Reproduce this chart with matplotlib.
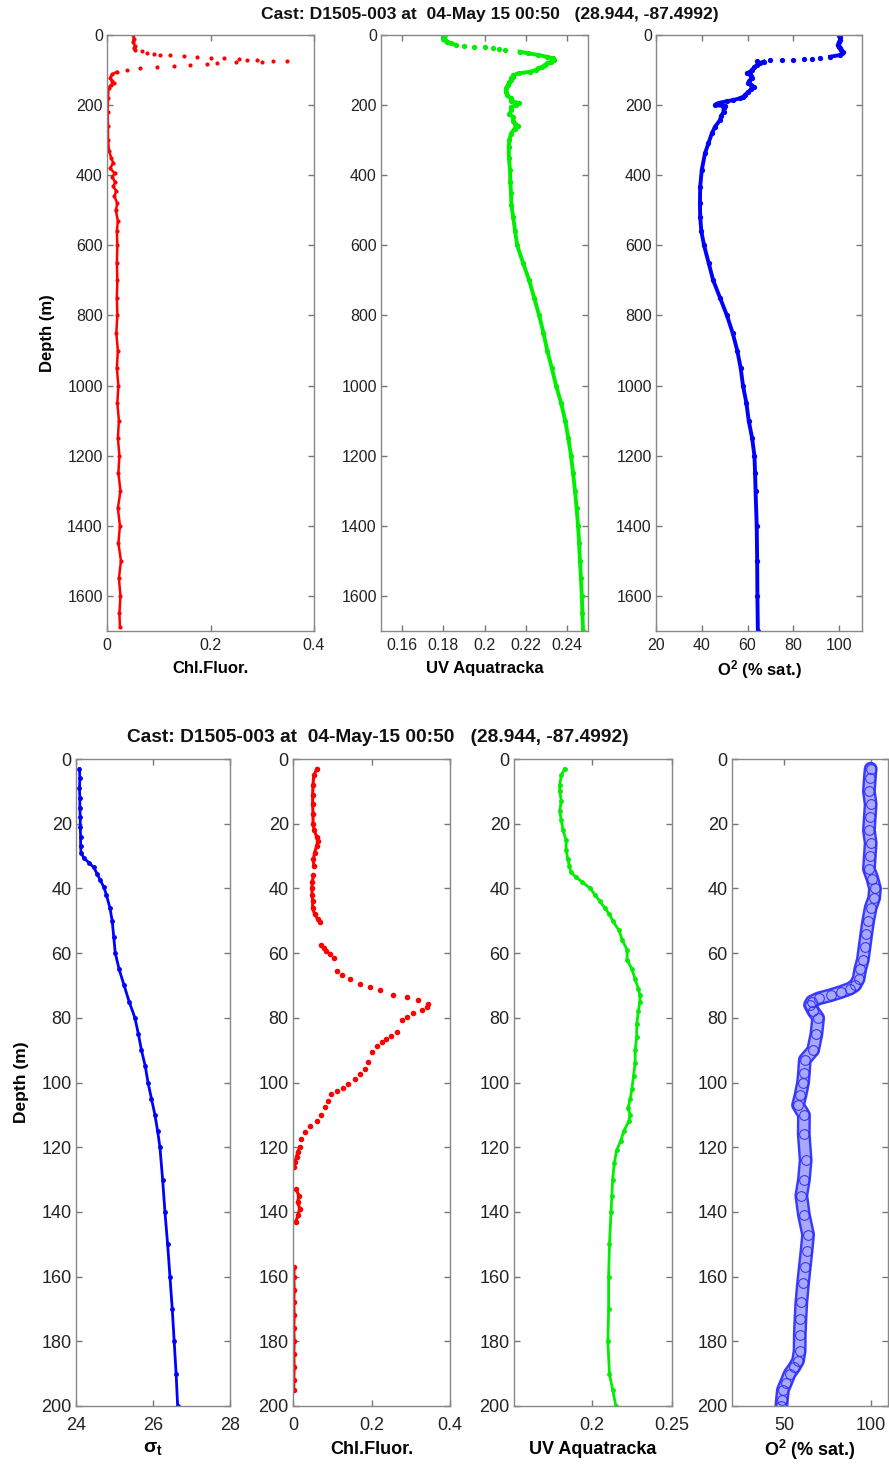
import numpy as np
import matplotlib
matplotlib.use('Agg')
import matplotlib.pyplot as plt
from matplotlib.ticker import FormatStrFormatter

plt.rcParams['font.family'] = ['Liberation Sans', 'DejaVu Sans']
plt.rcParams['mathtext.fontset'] = 'custom'
plt.rcParams['mathtext.rm'] = 'Liberation Sans:bold'
plt.rcParams['mathtext.it'] = 'Liberation Sans:bold'
plt.rcParams['mathtext.bf'] = 'Liberation Sans:bold'

nan = np.nan

# ---- top cast, full depth (0-1700 m)
chl_top_depth = [0, 10, 20, 30, 38, 43, 47, 50, 53, 56, 58, 61, 63, 66, 67, 69, 71, 72, 73, 74,
                 76, 78, 80, 82, 85, 87, 91, 95, 100, 105, 112, 122, 132, 138, 142, 150, 180, 220,
                 260, 300, 330, 350, 365, 380, 395, 405, 420, 432, 445, 460, 480, 500, 530, 560,
                 600, 650, 700, 750, 800, 850, 900, 950, 1000, 1050, 1100, 1150, 1200, 1250, 1300,
                 1350, 1400, 1450, 1500, 1550, 1600, 1650, 1690]
chl_top = [0.050, 0.052, 0.050, 0.054, 0.052, 0.055, 0.068, 0.077, 0.090, 0.103, 0.122, 0.148,
           0.174, 0.200, 0.226, 0.255, 0.271, 0.290, 0.320, 0.348, 0.300, 0.250, 0.213, 0.194,
           0.161, 0.129, 0.097, 0.064, 0.039, 0.019, 0.010, 0.006, 0.010, 0.013, 0.008, 0.003,
           0.002, 0.001, 0.002, 0.002, 0.004, 0.008, 0.012, 0.006, 0.015, 0.010, 0.016, 0.012,
           0.018, 0.014, 0.020, 0.017, 0.021, 0.019, 0.020, 0.019, 0.020, 0.019, 0.020, 0.018,
           0.021, 0.019, 0.022, 0.020, 0.023, 0.021, 0.024, 0.022, 0.026, 0.021, 0.025, 0.022,
           0.027, 0.023, 0.026, 0.024, 0.025]

uv_top_depth = [0, 5, 10, 15, 19, 24, 28.5, 31, 33, 35, 38, 41, 44, 47.5, 52, 57, 62, 66.5, 71,
                76, 81, 86, 90, 95, 100, 105, 109, 114, 119, 124, 128, 135, 143, 152, 162, 172,
                181, 188, 195, 200, 206, 215, 225, 233, 245, 253, 260, 267, 281, 300, 319, 350,
                385, 420, 452, 485, 518, 560, 600, 650, 700, 750, 800, 850, 900, 950, 1000, 1050,
                1100, 1150, 1200, 1250, 1300, 1350, 1400, 1450, 1500, 1550, 1600, 1650, 1700]
uv_top = [0.181, 0.180, 0.180, 0.181, 0.182, 0.184, 0.186, 0.190, 0.195, 0.200, 0.204, 0.207,
          0.210, 0.217, 0.221, 0.226, 0.230, 0.233, 0.2336, 0.232, 0.2304, 0.229, 0.228, 0.226,
          0.2248, 0.222, 0.2168, 0.214, 0.2136, 0.2128, 0.2128, 0.212, 0.2112, 0.2105, 0.2104,
          0.211, 0.2128, 0.213, 0.2168, 0.215, 0.2128, 0.213, 0.212, 0.2136, 0.214, 0.2145,
          0.216, 0.2145, 0.2128, 0.212, 0.2117, 0.2118, 0.2123, 0.2125, 0.2128, 0.213, 0.2138,
          0.2148, 0.2158, 0.2186, 0.2216, 0.224, 0.2264, 0.2285, 0.2303, 0.2325, 0.2346, 0.237,
          0.239, 0.2405, 0.2418, 0.2428, 0.2437, 0.2445, 0.2452, 0.2457, 0.2461, 0.2466, 0.247,
          0.2473, 0.2476]

o2_top_depth = [0, 7, 14, 21, 28.5, 33, 38, 43, 47.5, 52, 57, 62, 66.5, 68, 69.4, 70.5, 71.3,
                72.3, 73.2, 76, 80, 85.6, 92, 99.8, 105, 109.3, 116, 123.6, 130, 137.9, 143,
                147.4, 155, 161.7, 170, 175.9, 181, 185.4, 189, 193, 196, 199.7, 203, 209, 220,
                230, 242.6, 261.6, 280.6, 309, 337.7, 385, 432.6, 480, 518, 560, 600, 650, 700,
                750, 800, 850, 900, 950, 1000, 1050, 1100, 1150, 1200, 1250, 1300, 1400, 1500,
                1600, 1700]
o2_top = [99.8, 100.2, 100.5, 100, 99.4, 99.8, 100.5, 101, 101.8, 101.2, 100.5, 96.1, 91.8, 88,
          84.5, 80, 75, 70, 64, 67, 65.5, 64.1, 63, 61.9, 61, 59.7, 61.5, 61.9, 60.8, 60.4, 61.5,
          62.6, 61.5, 60.4, 59, 58.2, 56.5, 53.8, 51, 48, 46.5, 45.8, 50, 49.5, 49.5, 48.5, 48,
          45.8, 44.4, 42.9, 41.4, 40, 39.3, 39.2, 39.3, 39.8, 41, 43, 45, 48, 51, 53.5, 55.5, 57,
          58, 59.5, 60.5, 62, 63, 63.3, 63.5, 64, 64.2, 64.3, 64.5]

# ---- bottom cast, upper 200 m
sig_depth = [3, 6, 9, 12, 15, 18, 21, 24, 27, 29, 30.5, 32, 33.5, 35.5, 37.5, 39.5, 42, 46, 50,
             55, 60, 65, 70, 75, 80, 85, 90, 95, 100, 105, 110, 115, 120, 130, 140, 150, 160,
             170, 180, 190, 200]
sig_t = [24.09, 24.10, 24.09, 24.10, 24.10, 24.11, 24.11, 24.12, 24.12, 24.13, 24.20, 24.33,
         24.46, 24.55, 24.63, 24.72, 24.79, 24.88, 24.94, 24.98, 25.02, 25.12, 25.25, 25.38,
         25.53, 25.62, 25.70, 25.80, 25.87, 25.96, 26.05, 26.12, 26.18, 26.25, 26.31, 26.38,
         26.44, 26.50, 26.55, 26.60, 26.64]

chl_bot_depth = [3, 5, 8, 11, 14, 17, 20, 22, 24, 25.5, 27, 29, 31, 33, 34.5, 36, 38, 40, 42,
                 44, 46, 48, 49.5, 50.5, 54, 57.4, 58.3, 59.2, 60.3, 61.5, 63.5, 65.6, 66.9,
                 67.9, 69.5, 70.5, 71.5, 72.9, 73.6, 74.6, 75.7, 76.7, 77.7, 78.6, 79.6, 80.6,
                 84.4, 85.5, 86.5, 87.5, 88.6, 90.6, 93.7, 95.8, 97.3, 98.9, 100.4, 101.8, 102.7,
                 103.5, 105.6, 107.6, 110.2, 111.8, 113.3, 115.4, 117.4, 120, 121.5, 123, 124.5,
                 126, 130, 133, 135, 137, 139, 141, 143, 150, 157, 160, 164, 168, 172, 176, 180,
                 184, 188, 192, 195]
chl_bot = [0.061, 0.053, 0.051, 0.050, 0.050, 0.051, 0.051, 0.054, 0.060, 0.063, 0.060, 0.055,
           0.052, 0.053, nan, 0.052, 0.049, 0.048, 0.049, 0.050, 0.050, 0.055, 0.063, 0.068, nan,
           0.072, 0.078, 0.085, 0.095, 0.105, nan, 0.111, 0.124, 0.145, 0.170, 0.196, 0.221,
           0.255, 0.290, 0.319, 0.345, 0.341, 0.328, 0.307, 0.290, 0.277, 0.264, 0.250, 0.238,
           0.226, 0.213, 0.200, 0.191, 0.183, 0.170, 0.157, 0.140, 0.128, 0.111, 0.098, 0.090,
           0.081, 0.072, 0.060, 0.043, 0.030, 0.021, 0.017, 0.012, 0.009, 0.005, 0.002, nan,
           0.008, 0.015, 0.012, 0.017, 0.013, 0.007, nan, 0.003, 0.002, 0.003, 0.002, 0.003,
           0.002, 0.003, 0.002, 0.003, 0.002, 0.002]

uv_bot_depth = [3, 5, 8, 10, 13, 16, 19, 22, 25, 28, 31, 33, 35, 36.5, 38, 40, 42, 44, 46, 48, 50,
                53, 56, 59, 62, 65, 68, 71, 73, 75, 78, 82, 86, 90, 94, 98, 102, 105, 108, 110,
                112, 115, 118, 121, 125, 130, 135, 140, 150, 160, 170, 180, 190, 195, 200]
uv_bot = [0.183, 0.181, 0.180, 0.180, 0.181, 0.180, 0.181, 0.182, 0.184, 0.184, 0.185, 0.186,
          0.187, 0.190, 0.194, 0.199, 0.202, 0.205, 0.208, 0.211, 0.213, 0.217, 0.219, 0.222,
          0.222, 0.225, 0.227, 0.229, 0.230, 0.230, 0.229, 0.228, 0.228, 0.227, 0.227, 0.226,
          0.225, 0.224, 0.2225, 0.224, 0.223, 0.220, 0.218, 0.2155, 0.214, 0.213, 0.2125, 0.212,
          0.211, 0.2105, 0.2105, 0.210, 0.211, 0.213, 0.215]

o2_bot_depth = [3, 6, 10, 14, 18, 22, 26, 30, 34, 37, 40, 43, 46, 50, 54, 58, 62, 65, 68, 70, 71,
                72, 73, 74, 75, 76, 78, 80, 85, 90, 93, 97, 100, 104, 107, 110, 116, 124, 130,
                135, 141, 147, 152, 157, 162, 168, 173, 178, 183, 186, 188, 190, 193, 195, 198,
                200]
o2_bot = [100, 99.5, 99, 100, 99.5, 99, 100, 99.5, 99, 101, 102.5, 102, 100, 98.6, 97.5, 96.5,
          95.5, 94, 93, 91, 88, 83, 77, 70, 66, 65, 67, 69.7, 68.7, 66.8, 62, 61.5, 61, 59.5,
          58.1, 61.5, 61.4, 62.5, 61.5, 60, 61.5, 63.9, 63, 62, 61, 60, 59.5, 59.1, 59, 58.1, 56,
          53.3, 51, 49.4, 48.8, 48.5]

title_top = 'Cast: D1505-003 at  04-May 15 00:50   (28.944, -87.4992)'
title_bot = 'Cast: D1505-003 at  04-May-15 00:50   (28.944, -87.4992)'
o2_label = r'$\mathregular{O^2}$ (% sat.)'

RED, GREEN, BLUE = '#ff0000', '#00ee00', '#0000ff'


def style(ax, xlim, xticks, ylim, yticks, fs, xpad=3):
    ax.set_xlim(*xlim)
    ax.set_ylim(*ylim)
    ax.set_xticks(xticks)
    ax.set_yticks(yticks)
    ax.xaxis.set_major_formatter(FormatStrFormatter('%g'))
    ax.tick_params(direction='in', top=True, right=True, length=4, width=1,
                   color='#777777', labelcolor='#222222', labelsize=fs, pad=3)
    ax.tick_params(axis='x', pad=xpad)
    for s in ax.spines.values():
        s.set_color('#888888')
        s.set_linewidth(1)


def profile(ax, x, d, color, dots=None, ms=3.5, lw=2.0):
    x = np.asarray(x, float)
    d = np.asarray(d, float)
    ax.plot(x, d, 'o', color=color, ms=ms, mew=0)
    line = x.copy()
    if dots is not None:
        line[(d > dots[0]) & (d < dots[1])] = nan
    ax.plot(line, d, '-', color=color, lw=lw)


fig = plt.figure(figsize=(8.89, 14.67), dpi=100)
W, H = 889.0, 1467.0


def add_ax(x0, x1, y0, y1):
    return fig.add_axes([x0 / W, 1 - y1 / H, (x1 - x0) / W, (y1 - y0) / H])


# ---------------- top figure ----------------
fs_t = 11.5
a1 = add_ax(107, 314, 35, 631)
a2 = add_ax(381, 588, 35, 631)
a3 = add_ax(656, 862, 35, 631)
top_yt = list(range(0, 1700, 200))
profile(a1, chl_top, chl_top_depth, RED, dots=(44, 104), ms=3, lw=1.8)
profile(a2, uv_top, uv_top_depth, GREEN, dots=(29, 46), ms=3.8, lw=2.8)
profile(a3, o2_top, o2_top_depth, BLUE, dots=(63, 75), ms=3.8, lw=2.8)
style(a1, (0, 0.4), [0, 0.2, 0.4], (1700, 0), top_yt, fs_t, xpad=5)
style(a2, (0.15, 0.25), [0.16, 0.18, 0.2, 0.22, 0.24], (1700, 0), top_yt, fs_t, xpad=5)
style(a3, (20, 110), [20, 40, 60, 80, 100], (1700, 0), top_yt, fs_t, xpad=5)
a1.set_ylabel('Depth (m)', fontsize=12, fontweight='bold', labelpad=9)
a1.set_xlabel('Chl.Fluor.', fontsize=12, fontweight='bold', labelpad=6)
a2.set_xlabel('UV Aquatracka', fontsize=12, fontweight='bold', labelpad=6)
a3.set_xlabel(o2_label, fontsize=12, fontweight='bold', labelpad=4)
fig.text(490 / W, 1 - 14 / H, title_top, ha='center', va='center',
         fontsize=12.6, fontweight='bold', color='#111111')

# ---------------- bottom figure ----------------
fs_b = 13
b1 = add_ax(76, 230, 759, 1406)
b2 = add_ax(293, 450, 759, 1406)
b3 = add_ax(514, 672, 759, 1406)
b4 = add_ax(732, 888, 759, 1406)
bot_yt = list(range(0, 201, 20))
profile(b1, sig_t, sig_depth, BLUE, ms=3.5, lw=2.0)
profile(b2, chl_bot, chl_bot_depth, RED, dots=(52, 119), ms=4, lw=2.2)
profile(b3, uv_bot, uv_bot_depth, GREEN, ms=3.5, lw=2.0)
b4.plot(o2_bot, o2_bot_depth, '-', color='#3a3aff', lw=10, solid_capstyle='round')
b4.plot(o2_bot, o2_bot_depth, '-', color='#a8a8ff', lw=6.5, solid_capstyle='round')
b4.plot(o2_bot, o2_bot_depth, 'o', mfc='none', mec='#2a2aff', mew=0.7, ms=7)
style(b1, (24, 28), [24, 26, 28], (200, 0), bot_yt, fs_b, xpad=8)
style(b2, (0, 0.4), [0, 0.2, 0.4], (200, 0), bot_yt, fs_b, xpad=8)
style(b3, (0.1515, 0.25), [0.2, 0.25], (200, 0), bot_yt, fs_b, xpad=8)
style(b4, (20, 110), [50, 100], (200, 0), bot_yt, fs_b, xpad=8)
b1.set_ylabel('Depth (m)', fontsize=12.5, fontweight='bold', labelpad=9)
b1.set_xlabel(r'$\mathregular{\sigma_t}$', fontsize=14, fontweight='bold', labelpad=4)
b2.set_xlabel('Chl.Fluor.', fontsize=13, fontweight='bold', labelpad=5)
b3.set_xlabel('UV Aquatracka', fontsize=13, fontweight='bold', labelpad=5)
b4.set_xlabel(o2_label, fontsize=13, fontweight='bold', labelpad=3)
fig.text(378 / W, 1 - 738 / H, title_bot, ha='center', va='center',
         fontsize=13.8, fontweight='bold', color='#111111')

fig.savefig('out.png', dpi=100)
